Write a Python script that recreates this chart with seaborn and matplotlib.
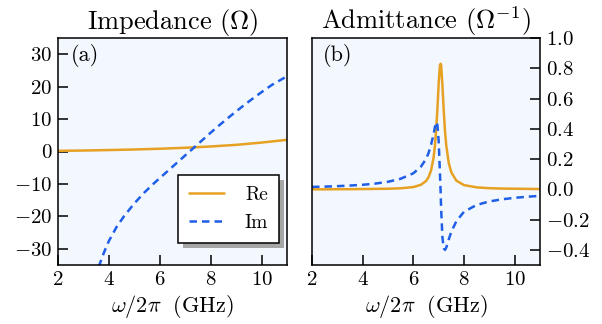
import matplotlib
matplotlib.use("Agg")
import matplotlib.pyplot as plt
import numpy as np
import pandas as pd
import seaborn as sns
from matplotlib.patches import Rectangle
from matplotlib.transforms import IdentityTransform
from matplotlib.ticker import FuncFormatter

# ---------------- data ----------------
# Panel (a): impedance
freq_z_re = [2.0, 3.0, 4.0, 5.0, 6.0, 7.0, 8.0, 9.0, 10.0, 11.0]
z_re = [0.2, 0.3, 0.45, 0.62, 0.85, 1.15, 1.55, 2.05, 2.75, 3.6]

freq_z_im = [3.6, 3.7, 3.8, 3.9, 4.0, 4.3, 4.6, 5.0, 5.4, 5.8, 6.2, 6.6, 7.0,
             7.2, 7.6, 8.0, 8.4, 8.8, 9.2, 9.6, 10.0, 10.4, 10.8, 11.0]
z_im = [-35.6, -33.4, -31.3, -29.4, -27.6, -23.3, -19.9, -16.0, -12.6, -9.6,
        -6.8, -4.0, -1.2, 0.2, 3.0, 5.8, 8.5, 11.1, 13.6, 16.0, 18.3, 20.5,
        22.3, 23.2]

# Panel (b): admittance
freq_y = [2.0, 2.5, 3.0, 3.5, 4.0, 4.5, 5.0, 5.5, 6.0, 6.3, 6.5, 6.6, 6.7,
          6.8, 6.85, 6.9, 6.95, 7.0, 7.05, 7.08, 7.1, 7.15, 7.2, 7.25, 7.3,
          7.4, 7.5, 7.7, 8.0, 8.5, 9.0, 9.5, 10.0, 10.5, 11.0]
y_re = [0.000, 0.000, 0.001, 0.001, 0.002, 0.003, 0.004, 0.007, 0.015, 0.030,
        0.055, 0.080, 0.125, 0.210, 0.285, 0.390, 0.530, 0.700, 0.820, 0.830,
        0.815, 0.680, 0.520, 0.385, 0.290, 0.172, 0.112, 0.057, 0.028, 0.013,
        0.0075, 0.005, 0.004, 0.003, 0.002]
y_im = [0.016, 0.018, 0.021, 0.025, 0.030, 0.038, 0.050, 0.070, 0.106, 0.150,
        0.200, 0.240, 0.295, 0.365, 0.410, 0.445, 0.425, 0.320, 0.110, -0.030,
        -0.140, -0.320, -0.390, -0.400, -0.385, -0.330, -0.280, -0.210, -0.148,
        -0.103, -0.080, -0.066, -0.056, -0.049, -0.043]

x_ticks = [2, 4, 6, 8, 10]
z_ticks = [-30, -20, -10, 0, 10, 20, 30]
y_ticks = [-0.4, -0.2, 0.0, 0.2, 0.4, 0.6, 0.8, 1.0]
series_labels = ["Re", "Im"]

# ---------------- style ----------------
ORANGE = "#E6A122"
BLUE = "#1F5FE8"
FACE = "#F3F7FE"
DASH = (0, (3.0, 2.0))

sns.set_theme(style="ticks")
plt.rcParams.update({
    "font.family": ["cmr10", "DejaVu Serif"],
    "mathtext.fontset": "cm",
    "axes.formatter.use_mathtext": False,
    "axes.edgecolor": "black",
    "axes.linewidth": 1.1,
    "xtick.color": "black",
    "ytick.color": "black",
    "text.color": "black",
    "axes.labelcolor": "black",
})


def fmt_int(v, pos):
    v = round(v)
    return f"${v:d}$"


def fmt_one(v, pos):
    v = round(v, 1)
    if v == 0:
        v = 0.0
    return f"${v:.1f}$"


fig = plt.figure(figsize=(6.02, 3.24), dpi=100)
W, H = 602, 324
axA = fig.add_axes([58 / W, 1 - 265 / H, 229 / W, 227 / H])
axB = fig.add_axes([312 / W, 1 - 265 / H, 228 / W, 227 / H])

dfa_re = pd.DataFrame({"f": freq_z_re, "v": z_re})
dfa_im = pd.DataFrame({"f": freq_z_im, "v": z_im})
dfb = pd.DataFrame({"f": freq_y, "re": y_re, "im": y_im})

sns.lineplot(data=dfa_re, x="f", y="v", ax=axA, color=ORANGE, linewidth=1.8,
             label=series_labels[0], legend=False)
sns.lineplot(data=dfa_im, x="f", y="v", ax=axA, color=BLUE, linewidth=1.8,
             linestyle=DASH, label=series_labels[1], legend=False)
sns.lineplot(data=dfb, x="f", y="re", ax=axB, color=ORANGE, linewidth=1.8,
             legend=False)
sns.lineplot(data=dfb, x="f", y="im", ax=axB, color=BLUE, linewidth=1.8,
             linestyle=DASH, legend=False)

for ax in (axA, axB):
    ax.set_facecolor(FACE)
    ax.set_xlim(2, 11)
    ax.set_xticks(x_ticks)
    ax.xaxis.set_major_formatter(FuncFormatter(fmt_int))
    ax.set_xlabel(r"$\omega/2\pi\;$ (GHz)", fontsize=16, labelpad=3)
    ax.set_ylabel("")
    ax.tick_params(axis="both", direction="in", length=7, width=1.1,
                   labelsize=15, pad=4)
    for s in ax.spines.values():
        s.set_visible(True)
        s.set_color("black")
        s.set_linewidth(1.1)

axA.set_ylim(-35, 35)
axA.set_yticks(z_ticks)
axA.yaxis.set_major_formatter(FuncFormatter(fmt_int))
axA.set_title(r"Impedance $(\Omega)$", fontsize=19, pad=5)
axA.text(0.057, 0.975, "(a)", transform=axA.transAxes, fontsize=16,
         va="top", ha="left")

axB.set_ylim(-0.5, 1.0)
axB.set_yticks(y_ticks)
axB.yaxis.set_major_formatter(FuncFormatter(fmt_one))
axB.yaxis.tick_right()
axB.yaxis.set_label_position("right")
axB.tick_params(axis="y", left=False, right=True, labelleft=False,
                labelright=True)
axB.set_title(r"Admittance $(\Omega^{-1})$", fontsize=19, pad=5)
axB.text(0.048, 0.975, "(b)", transform=axB.transAxes, fontsize=16,
         va="top", ha="left")

leg = axA.legend(loc="lower right", bbox_to_anchor=(0.965, 0.097),
                 borderaxespad=0, fontsize=14, frameon=True, fancybox=False,
                 framealpha=1, facecolor="white", edgecolor="black",
                 handlelength=1.8, handletextpad=1.1, borderpad=0.55,
                 labelspacing=0.55)
leg.get_frame().set_linewidth(1.1)
leg.set_zorder(5)

# drop shadow of the legend box
fig.canvas.draw()
bb = leg.get_window_extent()
shadow = Rectangle((bb.x0 + 5, bb.y0 - 5), bb.width, bb.height,
                   transform=IdentityTransform(), facecolor="#A6A6A6",
                   edgecolor="none", zorder=4.5, clip_on=False)
axA.add_patch(shadow)

fig.savefig("out.png", dpi=100, facecolor="white")
